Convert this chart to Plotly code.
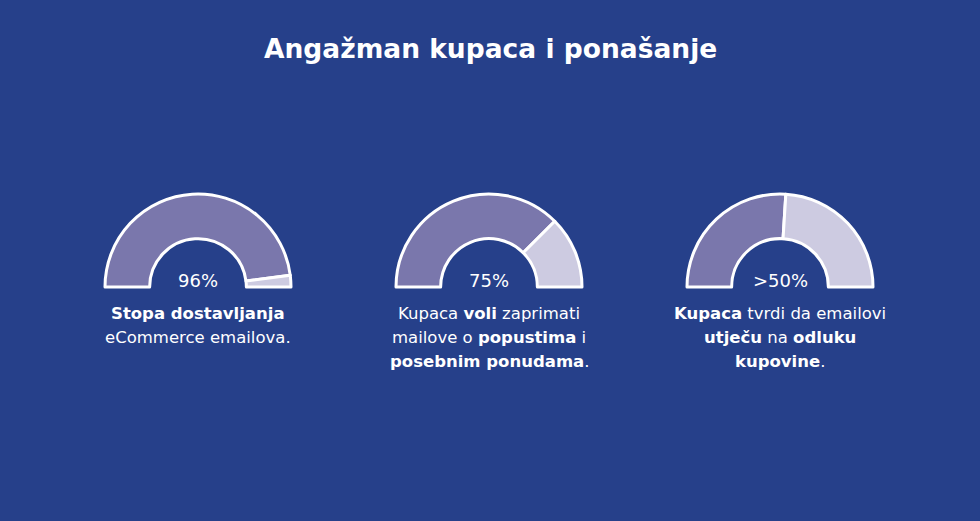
import plotly.graph_objects as go

title = "Angažman kupaca i ponašanje"
values = [96, 75, 52]
value_labels = ["96%", "75%", ">50%"]
desc_lines = [
    ["<b>Stopa dostavljanja</b>", "eCommerce emailova."],
    ["Kupaca <b>voli</b> zaprimati", "mailove o <b>popustima</b> i", "<b>posebnim ponudama</b>."],
    ["<b>Kupaca</b> tvrdi da emailovi", "<b>utječu</b> na <b>odluku</b>", "<b>kupovine</b>."],
]

W, H = 980, 521
BG = "#26408A"
DARK = "#7A77AC"
LIGHT = "#CDCBE1"
FONT = "DejaVu Sans"

centers_x = [198, 489, 780]
center_y = 287
R = 93

fig = go.Figure()
for i, v in enumerate(values):
    cx = centers_x[i]
    fig.add_trace(go.Pie(
        values=[v, 100 - v, 100],
        sort=False,
        direction="clockwise",
        rotation=270,
        hole=0.52,
        marker=dict(colors=[DARK, LIGHT, "rgba(0,0,0,0)"],
                    line=dict(color=["white", "white", "rgba(0,0,0,0)"], width=[3, 3, 0])),
        textinfo="none",
        hoverinfo="skip",
        showlegend=False,
        domain=dict(x=[(cx - R) / W, (cx + R) / W],
                    y=[1 - (center_y + R) / H, 1 - (center_y - R) / H]),
    ))
    fig.add_annotation(x=cx / W, y=1 - 280 / H, xref="paper", yref="paper",
                       text=value_labels[i], showarrow=False,
                       font=dict(family=FONT, size=18, color="white"),
                       xanchor="center", yanchor="middle")
    for j, line in enumerate(desc_lines[i]):
        fig.add_annotation(x=cx / W, y=1 - (313.5 + 24 * j) / H, xref="paper", yref="paper",
                           text=line, showarrow=False,
                           font=dict(family=FONT, size=16.5, color="white"),
                           xanchor="center", yanchor="middle")

fig.add_annotation(x=490 / W, y=1 - 49 / H, xref="paper", yref="paper",
                   text=title, showarrow=False,
                   font=dict(family=FONT, size=26.5, weight=700, color="white"),
                   xanchor="center", yanchor="middle")

fig.update_layout(width=W, height=H, margin=dict(l=0, r=0, t=0, b=0),
                  paper_bgcolor=BG, plot_bgcolor=BG)

post = ("document.body.style.margin='0';"
        "document.body.style.background='" + BG + "';"
        "document.querySelectorAll('.slice path').forEach(function(p){p.style.strokeLinejoin='round';});")
fig.write_html("out.html", post_script=post, config={"displayModeBar": False})
